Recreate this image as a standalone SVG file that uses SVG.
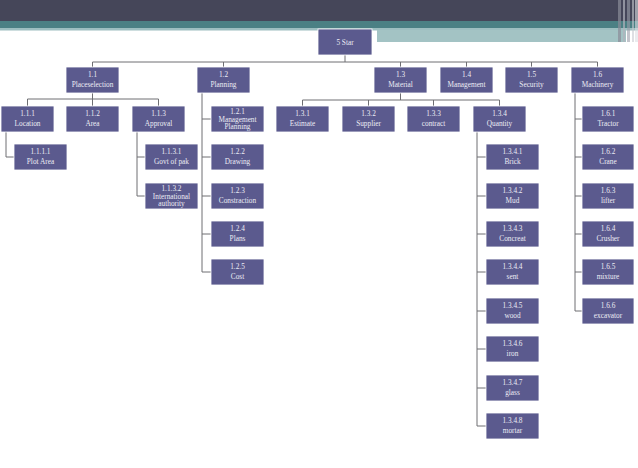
<svg xmlns="http://www.w3.org/2000/svg" width="638" height="468" viewBox="0 0 638 468">
<style>
.box{fill:#5b5a8e;stroke:#ffffff;stroke-width:0.8}
.t{fill:#ececf4;font-family:"Liberation Serif","DejaVu Serif",serif;font-size:7.3px;text-anchor:middle}
.c{fill:none;stroke:#6e6e72;stroke-width:1}
</style>
<rect width="638" height="468" fill="#ffffff"/>
<g id="header">
<rect x="0" y="0" width="638" height="21" fill="#454659"/>
<rect x="0" y="21" width="638" height="7" fill="#4b8084"/>
<rect x="0" y="28" width="638" height="2.5" fill="#9dbec0"/>
<rect x="377" y="30" width="249" height="12" fill="#a3c3c4"/>
<rect x="618" y="0" width="3" height="42" fill="#8a8c98" opacity="0.7"/>
<rect x="623" y="0" width="2" height="42" fill="#b0b2bc" opacity="0.7"/>
<rect x="627" y="0" width="3" height="42" fill="#9a9ca8" opacity="0.6"/>
<rect x="632" y="0" width="2" height="42" fill="#c8cad0" opacity="0.6"/>
<rect x="635" y="0" width="3" height="42" fill="#dcdde2" opacity="0.6"/>
</g>
<g id="connectors">
<path class="c" d="M345 55V62M92.5 62H597.5M92.5 62V67M223.5 62V67M400.5 62V67M466.5 62V67M531.5 62V67M597.5 62V67"/>
<path class="c" d="M92.5 93V99M27.5 99H158.5M27.5 99V106M92.5 99V106M158.5 99V106"/>
<path class="c" d="M6 132V157H14"/>
<path class="c" d="M137 132V196M137 157H145M137 196H145"/>
<path class="c" d="M202 93V272M202 119H211M202 157H211M202 196H211M202 234H211M202 272H211"/>
<path class="c" d="M400.5 93V100M302.5 100H499.5M302.5 100V106M368.5 100V106M433.5 100V106M499.5 100V106"/>
<path class="c" d="M477 132V426M477 157H486M477 196H486M477 234H486M477 272H486M477 311H486M477 349H486M477 388H486M477 426H486"/>
<path class="c" d="M575 93V311M575 119H582M575 157H582M575 196H582M575 234H582M575 272H582M575 311H582"/>
</g>
<g id="root"><rect class="box" x="318" y="29" width="54" height="26" stroke-width="1.5"/><text class="t" x="345" y="44.5">5 Star</text></g>
<g id="n1_1"><rect class="box" x="66" y="67" width="53" height="26"/><text class="t" x="92.5" y="77">1.1</text><text class="t" x="92.5" y="87">Placeselection</text></g>
<g id="n1_2"><rect class="box" x="197" y="67" width="53" height="26"/><text class="t" x="223.5" y="77">1.2</text><text class="t" x="223.5" y="87">Planning</text></g>
<g id="n1_3"><rect class="box" x="374" y="67" width="53" height="26"/><text class="t" x="400.5" y="77">1.3</text><text class="t" x="400.5" y="87">Material</text></g>
<g id="n1_4"><rect class="box" x="440" y="67" width="53" height="26"/><text class="t" x="466.5" y="77">1.4</text><text class="t" x="466.5" y="87">Management</text></g>
<g id="n1_5"><rect class="box" x="505" y="67" width="53" height="26"/><text class="t" x="531.5" y="77">1.5</text><text class="t" x="531.5" y="87">Security</text></g>
<g id="n1_6"><rect class="box" x="571" y="67" width="53" height="26"/><text class="t" x="597.5" y="77">1.6</text><text class="t" x="597.5" y="87">Machinery</text></g>
<g id="n1_1_1"><rect class="box" x="1" y="106" width="53" height="26"/><text class="t" x="27.5" y="116">1.1.1</text><text class="t" x="27.5" y="126">Location</text></g>
<g id="n1_1_2"><rect class="box" x="66" y="106" width="53" height="26"/><text class="t" x="92.5" y="116">1.1.2</text><text class="t" x="92.5" y="126">Area</text></g>
<g id="n1_1_3"><rect class="box" x="132" y="106" width="53" height="26"/><text class="t" x="158.5" y="116">1.1.3</text><text class="t" x="158.5" y="126">Approval</text></g>
<g id="n1_1_1_1"><rect class="box" x="14" y="144" width="53" height="26"/><text class="t" x="40.5" y="154">1.1.1.1</text><text class="t" x="40.5" y="164">Plot Area</text></g>
<g id="n1_1_3_1"><rect class="box" x="145" y="144" width="53" height="26"/><text class="t" x="171.5" y="154">1.1.3.1</text><text class="t" x="171.5" y="164">Govt of pak</text></g>
<g id="n1_1_3_2"><rect class="box" x="145" y="183" width="53" height="26"/><text class="t" x="171.5" y="190.5">1.1.3.2</text><text class="t" x="171.5" y="198.5">International</text><text class="t" x="171.5" y="206">authority</text></g>
<g id="n1_2_1"><rect class="box" x="211" y="106" width="53" height="26"/><text class="t" x="237.5" y="113.5">1.2.1</text><text class="t" x="237.5" y="121.5">Management</text><text class="t" x="237.5" y="129">Planning</text></g>
<g id="n1_2_2"><rect class="box" x="211" y="144" width="53" height="26"/><text class="t" x="237.5" y="154">1.2.2</text><text class="t" x="237.5" y="164">Drawing</text></g>
<g id="n1_2_3"><rect class="box" x="211" y="183" width="53" height="26"/><text class="t" x="237.5" y="193">1.2.3</text><text class="t" x="237.5" y="203">Constraction</text></g>
<g id="n1_2_4"><rect class="box" x="211" y="221" width="53" height="26"/><text class="t" x="237.5" y="231">1.2.4</text><text class="t" x="237.5" y="241">Plans</text></g>
<g id="n1_2_5"><rect class="box" x="211" y="259" width="53" height="26"/><text class="t" x="237.5" y="269">1.2.5</text><text class="t" x="237.5" y="279">Cost</text></g>
<g id="n1_3_1"><rect class="box" x="276" y="106" width="53" height="26"/><text class="t" x="302.5" y="116">1.3.1</text><text class="t" x="302.5" y="126">Estimate</text></g>
<g id="n1_3_2"><rect class="box" x="342" y="106" width="53" height="26"/><text class="t" x="368.5" y="116">1.3.2</text><text class="t" x="368.5" y="126">Supplier</text></g>
<g id="n1_3_3"><rect class="box" x="407" y="106" width="53" height="26"/><text class="t" x="433.5" y="116">1.3.3</text><text class="t" x="433.5" y="126">contract</text></g>
<g id="n1_3_4"><rect class="box" x="473" y="106" width="53" height="26"/><text class="t" x="499.5" y="116">1.3.4</text><text class="t" x="499.5" y="126">Quantity</text></g>
<g id="n1_3_4_1"><rect class="box" x="486" y="144" width="53" height="26"/><text class="t" x="512.5" y="154">1.3.4.1</text><text class="t" x="512.5" y="164">Brick</text></g>
<g id="n1_3_4_2"><rect class="box" x="486" y="183" width="53" height="26"/><text class="t" x="512.5" y="193">1.3.4.2</text><text class="t" x="512.5" y="203">Mud</text></g>
<g id="n1_3_4_3"><rect class="box" x="486" y="221" width="53" height="26"/><text class="t" x="512.5" y="231">1.3.4.3</text><text class="t" x="512.5" y="241">Concreat</text></g>
<g id="n1_3_4_4"><rect class="box" x="486" y="259" width="53" height="26"/><text class="t" x="512.5" y="269">1.3.4.4</text><text class="t" x="512.5" y="279">sent</text></g>
<g id="n1_3_4_5"><rect class="box" x="486" y="298" width="53" height="26"/><text class="t" x="512.5" y="308">1.3.4.5</text><text class="t" x="512.5" y="318">wood</text></g>
<g id="n1_3_4_6"><rect class="box" x="486" y="336" width="53" height="26"/><text class="t" x="512.5" y="346">1.3.4.6</text><text class="t" x="512.5" y="356">iron</text></g>
<g id="n1_3_4_7"><rect class="box" x="486" y="375" width="53" height="26"/><text class="t" x="512.5" y="385">1.3.4.7</text><text class="t" x="512.5" y="395">glass</text></g>
<g id="n1_3_4_8"><rect class="box" x="486" y="413" width="53" height="26"/><text class="t" x="512.5" y="423">1.3.4.8</text><text class="t" x="512.5" y="433">mortar</text></g>
<g id="n1_6_1"><rect class="box" x="582" y="106" width="52" height="26"/><text class="t" x="608" y="116">1.6.1</text><text class="t" x="608" y="126">Tractor</text></g>
<g id="n1_6_2"><rect class="box" x="582" y="144" width="52" height="26"/><text class="t" x="608" y="154">1.6.2</text><text class="t" x="608" y="164">Crane</text></g>
<g id="n1_6_3"><rect class="box" x="582" y="183" width="52" height="26"/><text class="t" x="608" y="193">1.6.3</text><text class="t" x="608" y="203">lifter</text></g>
<g id="n1_6_4"><rect class="box" x="582" y="221" width="52" height="26"/><text class="t" x="608" y="231">1.6.4</text><text class="t" x="608" y="241">Crusher</text></g>
<g id="n1_6_5"><rect class="box" x="582" y="259" width="52" height="26"/><text class="t" x="608" y="269">1.6.5</text><text class="t" x="608" y="279">mixture</text></g>
<g id="n1_6_6"><rect class="box" x="582" y="298" width="52" height="26"/><text class="t" x="608" y="308">1.6.6</text><text class="t" x="608" y="318">excavator</text></g>
</svg>
